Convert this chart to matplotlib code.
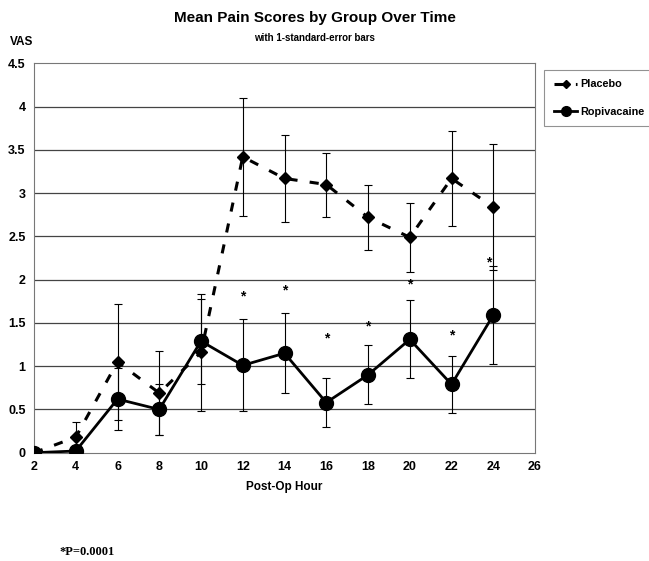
import matplotlib
matplotlib.use("Agg")
import matplotlib.pyplot as plt

plt.rcParams["font.family"] = ["Liberation Sans", "DejaVu Sans"]

hours = [2, 4, 6, 8, 10, 12, 14, 16, 18, 20, 22, 24]
placebo_mean = [0.0, 0.18, 1.05, 0.69, 1.16, 3.42, 3.17, 3.10, 2.72, 2.49, 3.17, 2.84]
placebo_se = [0.0, 0.18, 0.67, 0.49, 0.68, 0.68, 0.50, 0.37, 0.38, 0.40, 0.55, 0.73]
ropi_mean = [0.0, 0.02, 0.62, 0.50, 1.29, 1.01, 1.15, 0.58, 0.90, 1.31, 0.79, 1.59]
ropi_se = [0.0, 0.0, 0.36, 0.30, 0.49, 0.53, 0.46, 0.28, 0.34, 0.45, 0.33, 0.57]

# significance markers (hour, y position)
star_hours = [12, 14, 16, 18, 20, 22, 23.8]
star_y = [1.81, 1.87, 1.32, 1.46, 1.95, 1.36, 2.20]

x_ticks = list(range(2, 27, 2))
y_ticks = [0, 0.5, 1, 1.5, 2, 2.5, 3, 3.5, 4, 4.5]

fig = plt.figure(figsize=(6.49, 5.61), dpi=100)
ax = fig.add_axes([0.0524, 0.193, 0.772, 0.694])

for y in y_ticks[1:-1]:
    ax.axhline(y, color="#444444", lw=0.9, zorder=1)

ax.errorbar(hours, placebo_mean, yerr=placebo_se, fmt="none", ecolor="black",
            elinewidth=0.8, capsize=3, capthick=0.8, zorder=2)
ax.errorbar(hours, ropi_mean, yerr=ropi_se, fmt="none", ecolor="black",
            elinewidth=0.8, capsize=3, capthick=0.8, zorder=2)

ax.plot(hours, placebo_mean, color="black", lw=2.2, ls=(0, (3, 4)),
        marker="D", markersize=6, label="Placebo", zorder=3)
ax.plot(hours, ropi_mean, color="black", lw=2.0, ls="-",
        marker="o", markersize=10, label="Ropivacaine", zorder=4)

for sx, sy in zip(star_hours, star_y):
    ax.text(sx, sy, "*", ha="center", va="center", fontsize=10, fontweight="bold")

ax.set_xlim(2, 26)
ax.set_ylim(0, 4.5)
ax.set_xticks(x_ticks)
ax.set_yticks(y_ticks)
ax.set_yticklabels([f"{v:g}" for v in y_ticks])
ax.tick_params(length=0, labelsize=9, pad=6)
for lbl in ax.get_xticklabels() + ax.get_yticklabels():
    lbl.set_fontweight("bold")
for sp in ax.spines.values():
    sp.set_color("#777777")
    sp.set_linewidth(0.8)
    sp.set_linestyle((0, (2, 1)))

ax.set_xlabel("Post-Op Hour", fontsize=8.5, fontweight="bold", labelpad=6)

leg = fig.legend(loc="upper left", bbox_to_anchor=(0.838, 0.876), frameon=True,
                 fancybox=False, edgecolor="#777777", fontsize=7.8,
                 handlelength=2.2, borderpad=0.9, labelspacing=1.6, handletextpad=0.3,
                 borderaxespad=0, markerscale=0.7)
leg.get_frame().set_linewidth(0.8)
for t in leg.get_texts():
    t.set_fontweight("bold")

fig.text(0.485, 0.968, "Mean Pain Scores by Group Over Time", ha="center", va="center",
         fontsize=11, fontweight="bold")
fig.text(0.485, 0.933, "with 1-standard-error bars", ha="center", va="center",
         fontsize=7, fontweight="bold")
fig.text(0.034, 0.925, "VAS", ha="center", va="center", fontsize=8.5, fontweight="bold")
fig.text(0.092, 0.016, "*P=0.0001", ha="left", va="center", fontsize=9,
         fontweight="bold", family=["Liberation Serif", "DejaVu Serif"])

fig.savefig("out.png", dpi=100)
